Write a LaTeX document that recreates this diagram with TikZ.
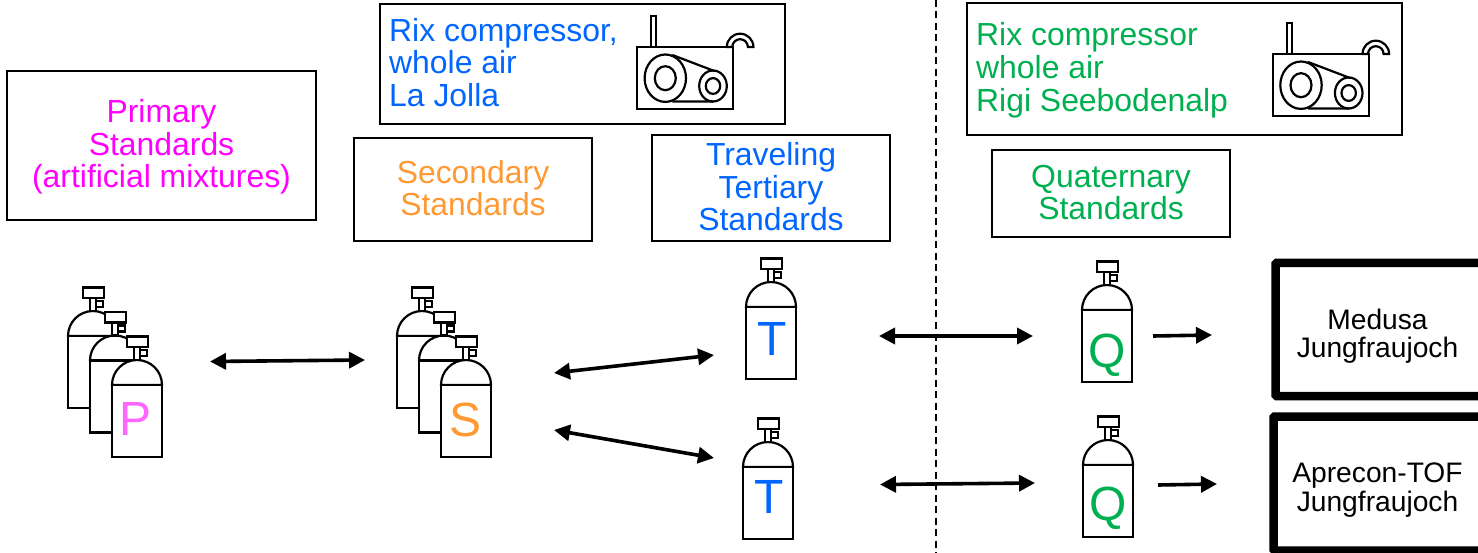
\documentclass[tikz,border=0pt]{standalone}
\usepackage{fontspec}
\setmainfont{Liberation Sans}
\usetikzlibrary{arrows.meta}
\definecolor{cmag}{HTML}{FF00FF}
\definecolor{cmagl}{HTML}{FF66FF}
\definecolor{corg}{HTML}{FF9933}
\definecolor{cblu}{HTML}{0066FF}
\definecolor{cgrn}{HTML}{00B050}
\tikzset{
  lab/.style={font=\fontsize{31.9}{32.5}\selectfont,align=center,inner sep=0pt},
  labl/.style={font=\fontsize{31.9}{32.8}\selectfont,align=left,inner sep=0pt,anchor=west},
  blk/.style={font=\fontsize{28.2}{28.5}\selectfont,align=center,inner sep=0pt,text=black},
  let/.style={font=\fontsize{48}{48}\selectfont,inner sep=0pt},
  thinbox/.style={draw=black,line width=2pt,inner sep=0pt,fill=white},
  thickbox/.style={draw=black,line width=8.5pt,rounded corners=1pt,inner sep=0pt,fill=white},
  conn/.style={draw=black,line width=3.6pt,{Triangle[length=16pt,width=16pt]}-{Triangle[length=16pt,width=16pt]}},
  oneway/.style={draw=black,line width=3.6pt,-{Triangle[length=16pt,width=16pt]}},
  part/.style={draw=black,line width=2.2pt,fill=white},
  cyl/.pic={
    \path[part] (-25,0) arc[start angle=180,end angle=360,radius=25] -- cycle;
    \path[part] (-25,0) rectangle (25,72);
    \path[part] (3,-35) rectangle (10,-29);
    \path[part] (-3.3,-38) rectangle (3,-25);
    \path[part] (-10,-48.5) rectangle (11,-38);
  },
  comp/.pic={
    \path[part] (14,-31) rectangle (19,0);
    \path[part] (0,0) rectangle (96,62);
    \path[part] (89.5,0) arc[start angle=180,end angle=360,radius=13.3] -- ++(-5.5,0) arc[start angle=360,end angle=180,radius=7.8] -- cycle;
    \draw[black,line width=2.2pt] (35,8) -- (77,24) (35,54.5) -- (76,54.5);
    \draw[black,line width=2.2pt] (28,31.2) ellipse[x radius=20.7,y radius=23.7] (28,31.2) ellipse[x radius=10.5,y radius=12] (75.7,39) ellipse[x radius=13.8,y radius=15.5] (75.7,39) ellipse[x radius=7.2,y radius=7.9];
  }
}
\begin{document}
\begin{tikzpicture}[x=1pt,y=-1pt]
\useasboundingbox (0,0) rectangle (1478,553);
% boxes
\node[thinbox,minimum width=309pt,minimum height=149pt] (bprim) at (161.5,145.5) {};
\node[thinbox,minimum width=405pt,minimum height=120pt] (brix1) at (582.5,64) {};
\node[thinbox,minimum width=238pt,minimum height=103pt] (bsec) at (473,189.5) {};
\node[thinbox,minimum width=238pt,minimum height=106pt] (bter) at (771,188) {};
\node[thinbox,minimum width=435pt,minimum height=132pt] (brix2) at (1184.5,69) {};
\node[thinbox,minimum width=238pt,minimum height=87pt] (bqua) at (1111,193.5) {};
\node[thickbox,minimum width=208pt,minimum height=133pt] (bmed) at (1379.5,329.5) {};
\node[thickbox,minimum width=212pt,minimum height=134pt] (bapr) at (1379.5,483.5) {};
% box texts
\node[lab,text=cmag] (tprim) at (161.5,147) {Primary\\Standards\\(artificial mixtures)};
\node[labl,text=cblu] (trix1) at (389,62.5) {Rix compressor,\\whole air\\La Jolla};
\node[lab,text=corg] (tsec) at (473,188) {Secondary\\Standards};
\node[lab,text=cblu] (tter) at (771,187) {Traveling\\Tertiary\\Standards};
\node[labl,text=cgrn] (trix2) at (976,70) {Rix compressor\\whole air\\Rigi Seebodenalp};
\node[lab,text=cgrn] (tqua) at (1111,192.5) {Quaternary\\Standards};
\node[blk] (tmed) at (1377.5,336) {Medusa\\Jungfraujoch};
\node[blk] (tapr) at (1377.5,490) {Aprecon-TOF\\Jungfraujoch};
% compressors
\pic at (637.3,47) {comp};
\pic at (1273,54) {comp};
% dashed line
\coordinate (dtop) at (936,0);
\coordinate (dbot) at (936,553);
\draw[black,line width=1.6pt,dash pattern=on 7pt off 4.5pt] (dtop) -- (dbot);
% cylinders
\pic at (93,336) {cyl};
\pic at (115,360.5) {cyl};
\pic at (137,385) {cyl};
\node[let,text=cmagl] (lp) at (135.5,418.5) {P};
\pic at (422,336) {cyl};
\pic at (444,360.5) {cyl};
\pic at (466,385) {cyl};
\node[let,text=corg] (ls) at (466,419.5) {S};
\pic at (771,307) {cyl};
\node[let,text=cblu] (lt1) at (772,338.5) {T};
\pic at (768,467) {cyl};
\node[let,text=cblu] (lt2) at (769,497) {T};
\pic at (1107,310) {cyl};
\node[let,text=cgrn] (lq1) at (1107,355) {Q};
\pic at (1108,465) {cyl};
\node[let,text=cgrn] (lq2) at (1108,508) {Q};
% connector ends
\coordinate (a1) at (210,361.5);
\coordinate (a2) at (365,360);
\coordinate (b1) at (554,373);
\coordinate (b2) at (714,355);
\coordinate (c1) at (554,430);
\coordinate (c2) at (714,458);
\coordinate (d1) at (879,336);
\coordinate (d2) at (1033,336);
\coordinate (e1) at (880,484.5);
\coordinate (e2) at (1035,483);
\coordinate (f1) at (1153,336);
\coordinate (f2) at (1212,335);
\coordinate (g1) at (1158,485);
\coordinate (g2) at (1217,484);
\draw[conn] (a1) -- (a2);
\draw[conn] (b1) -- (b2);
\draw[conn] (c1) -- (c2);
\draw[conn] (d1) -- (d2);
\draw[conn] (e1) -- (e2);
\draw[oneway] (f1) -- (f2);
\draw[oneway] (g1) -- (g2);
\end{tikzpicture}
\end{document}
